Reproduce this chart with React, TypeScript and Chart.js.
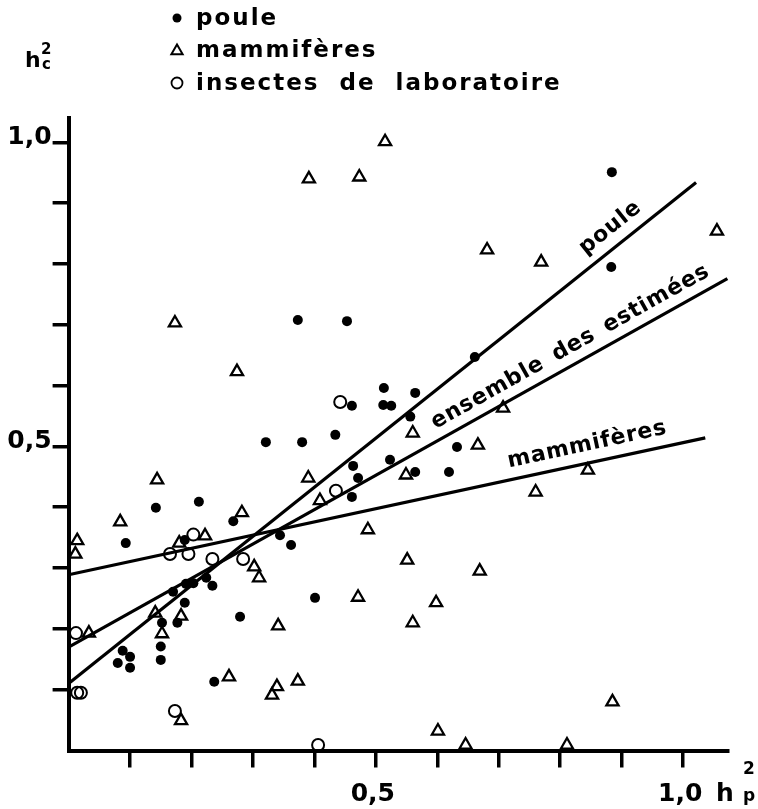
import React, { useEffect, useRef } from 'react';
import { Chart, registerables } from 'chart.js';

Chart.register(...registerables);

// ---- data (x = h²p, y = h²c) ----
const pouleData: [number, number][] = [
  [0.884, 0.951], [0.883, 0.795], [0.373, 0.708], [0.453, 0.706], [0.661, 0.647],
  [0.513, 0.596], [0.564, 0.588], [0.461, 0.567], [0.512, 0.568], [0.525, 0.567],
  [0.556, 0.549], [0.434, 0.519], [0.321, 0.507], [0.380, 0.507], [0.632, 0.499],
  [0.523, 0.478], [0.463, 0.468], [0.564, 0.458], [0.619, 0.458], [0.471, 0.448],
  [0.461, 0.417], [0.344, 0.354], [0.362, 0.338], [0.142, 0.399], [0.212, 0.409],
  [0.268, 0.377], [0.093, 0.341], [0.189, 0.346], [0.401, 0.251], [0.170, 0.261],
  [0.191, 0.274], [0.203, 0.275], [0.224, 0.284], [0.234, 0.271], [0.189, 0.243],
  [0.152, 0.210], [0.177, 0.210], [0.279, 0.220], [0.088, 0.164], [0.100, 0.154],
  [0.150, 0.171], [0.150, 0.149], [0.080, 0.144], [0.100, 0.136], [0.237, 0.113],
];

const mammData: [number, number][] = [
  [0.515, 1.001], [0.391, 0.940], [0.473, 0.943], [0.681, 0.823], [0.769, 0.803],
  [1.055, 0.854], [0.707, 0.563], [0.560, 0.522], [0.666, 0.502], [0.845, 0.461],
  [0.760, 0.425], [0.551, 0.313], [0.669, 0.295], [0.598, 0.243], [0.560, 0.210],
  [0.885, 0.080], [0.601, 0.032], [0.646, 0.009], [0.811, 0.009], [0.549, 0.453],
  [0.390, 0.448], [0.409, 0.411], [0.487, 0.363], [0.471, 0.252], [0.173, 0.703],
  [0.274, 0.623], [0.144, 0.445], [0.084, 0.376], [0.282, 0.391], [0.014, 0.345],
  [0.011, 0.323], [0.222, 0.353], [0.180, 0.341], [0.302, 0.302], [0.310, 0.284],
  [0.141, 0.226], [0.183, 0.221], [0.341, 0.205], [0.033, 0.193], [0.152, 0.192],
  [0.261, 0.121], [0.339, 0.105], [0.331, 0.091], [0.373, 0.114], [0.183, 0.049],
];

const insectData: [number, number][] = [
  [0.442, 0.573], [0.435, 0.427], [0.203, 0.355], [0.165, 0.323], [0.195, 0.323],
  [0.234, 0.315], [0.284, 0.315], [0.012, 0.193], [0.014, 0.095], [0.020, 0.095],
  [0.173, 0.065], [0.406, 0.009],
];

// regression lines: [start, end]
const pouleLine: [number, number][] = [[0, 0.110], [1.021, 0.934]];
const ensembleLine: [number, number][] = [[0, 0.170], [1.072, 0.776]];
const mammLine: [number, number][] = [[0, 0.289], [1.036, 0.514]];

const tickValues = [0.1, 0.2, 0.3, 0.4, 0.5, 0.6, 0.7, 0.8, 0.9, 1.0];
const labeledTickValues = [0.5, 1.0];
const labeledTickTexts = ['0,5', '1,0'];

const legendLabels = ['poule', 'mammifères', 'insectes de laboratoire'];
const lineLabels = ['poule', 'ensemble des estimées', 'mammifères'];
const lineLabelAt = [0.9, 0.83, 0.85];

const FONT = '"DejaVu Sans", sans-serif';

const toXY = (arr: [number, number][]) => arr.map(([x, y]) => ({ x, y }));

const textPlugin = {
  id: 'textPlugin',
  afterDraw(chart: any) {
    const ctx: CanvasRenderingContext2D = chart.ctx;
    const xs = chart.scales.x;
    const ys = chart.scales.y;
    const x0 = xs.getPixelForValue(0);
    const y0 = ys.getPixelForValue(0);
    ctx.save();
    ctx.fillStyle = '#000';
    ctx.strokeStyle = '#000';

    // x tick labels
    ctx.font = `bold 25px ${FONT}`;
    ctx.textAlign = 'center';
    ctx.textBaseline = 'alphabetic';
    labeledTickValues.forEach((v, i) => {
      ctx.fillText(labeledTickTexts[i], xs.getPixelForValue(v) - 3, y0 + 50);
    });
    // y tick labels
    ctx.font = `bold 25px ${FONT}`;
    ctx.textAlign = 'right';
    labeledTickValues.forEach((v, i) => {
      ctx.fillText(labeledTickTexts[i], x0 - 17, ys.getPixelForValue(v) + 2);
    });

    // axis titles
    ctx.textAlign = 'left';
    ctx.font = `bold 25px ${FONT}`;
    ctx.fillText('h', xs.right - 12, y0 + 50);
    ctx.font = `bold 17px ${FONT}`;
    ctx.fillText('2', xs.right + 15, y0 + 23);
    ctx.fillText('p', xs.right + 15, y0 + 50);

    ctx.font = `bold 22px ${FONT}`;
    ctx.fillText('h', 25, 67);
    ctx.font = `bold 15px ${FONT}`;
    ctx.fillText('2', 41, 54);
    ctx.fillText('c', 42, 69);

    // legend
    const lx = 177;
    const rows = [18, 50, 83];
    ctx.beginPath();
    ctx.arc(lx, rows[0], 4.5, 0, Math.PI * 2);
    ctx.fill();
    ctx.lineWidth = 2;
    ctx.beginPath();
    const r = 6.5;
    for (let k = 0; k < 3; k++) {
      const a = (k * 2 * Math.PI) / 3;
      const px = lx + Math.sin(a) * r;
      const py = rows[1] + 1 - Math.cos(a) * r;
      if (k === 0) ctx.moveTo(px, py); else ctx.lineTo(px, py);
    }
    ctx.closePath();
    ctx.stroke();
    ctx.lineWidth = 1.8;
    ctx.beginPath();
    ctx.arc(lx, rows[2], 5.5, 0, Math.PI * 2);
    ctx.stroke();

    ctx.font = `bold 23px ${FONT}`;
    (ctx as any).letterSpacing = '2px';
    (ctx as any).wordSpacing = '10px';
    ctx.textBaseline = 'alphabetic';
    legendLabels.forEach((t, i) => ctx.fillText(t, 196, rows[i] + 7));

    // line labels
    ctx.font = `bold 22px ${FONT}`;
    (ctx as any).wordSpacing = '4px';
    (ctx as any).letterSpacing = '0.8px';
    ctx.textAlign = 'center';
    ctx.textBaseline = 'middle';
    const lines = [pouleLine, ensembleLine, mammLine];
    const offsets = [18, 17, 18];
    lines.forEach((ln, i) => {
      const [p0, p1] = ln;
      const ax = xs.getPixelForValue(p0[0]);
      const ay = ys.getPixelForValue(p0[1]);
      const bx = xs.getPixelForValue(p1[0]);
      const by = ys.getPixelForValue(p1[1]);
      const ang = Math.atan2(by - ay, bx - ax);
      const t = (lineLabelAt[i] - p0[0]) / (p1[0] - p0[0]);
      const yv = p0[1] + t * (p1[1] - p0[1]);
      const px = xs.getPixelForValue(lineLabelAt[i]);
      const py = ys.getPixelForValue(yv);
      ctx.save();
      ctx.translate(px, py);
      ctx.rotate(ang);
      ctx.fillText(lineLabels[i], 0, -offsets[i]);
      ctx.restore();
    });
    ctx.restore();
  },
};

export default function App() {
  const ref = useRef<HTMLCanvasElement | null>(null);
  useEffect(() => {
    if (!ref.current) return;
    const lineDs = (d: [number, number][]) => ({
      type: 'line' as const,
      data: toXY(d),
      borderColor: '#000',
      borderWidth: 3.2,
      pointRadius: 0,
      showLine: true,
      fill: false,
      tension: 0,
      order: 5,
      clip: false as any,
    });
    const chart = new Chart(ref.current, {
      type: 'scatter',
      data: {
        datasets: [
          {
            label: 'poule',
            data: toXY(pouleData),
            pointStyle: 'circle',
            pointRadius: 5,
            backgroundColor: '#000',
            borderColor: '#000',
            borderWidth: 0,
            order: 1,
            clip: false as any,
          },
          {
            label: 'mammifères',
            data: toXY(mammData),
            pointStyle: 'triangle',
            pointRadius: 7,
            backgroundColor: 'rgba(0,0,0,0)',
            borderColor: '#000',
            borderWidth: 2.3,
            order: 2,
            clip: false as any,
          },
          {
            label: 'insectes de laboratoire',
            data: toXY(insectData),
            pointStyle: 'circle',
            pointRadius: 6,
            backgroundColor: 'rgba(0,0,0,0)',
            borderColor: '#000',
            borderWidth: 2,
            order: 3,
            clip: false as any,
          },
          lineDs(pouleLine) as any,
          lineDs(ensembleLine) as any,
          lineDs(mammLine) as any,
        ],
      },
      options: {
        animation: false,
        responsive: false,
        events: [],
        layout: { padding: { left: 0, right: 30, top: 118, bottom: 0 }, autoPadding: false } as any,
        plugins: { legend: { display: false }, tooltip: { enabled: false } },
        scales: {
          x: {
            type: 'linear',
            min: 0,
            max: 1.073,
            afterBuildTicks: (s: any) => {
              s.ticks = tickValues.map((v) => ({ value: v }));
            },
            afterFit: (s: any) => {
              s.height = 58.5;
            },
            ticks: { display: false },
            grid: { drawOnChartArea: false, drawTicks: true, tickLength: 17, lineWidth: 3.5, color: '#000' },
            border: { display: true, width: 4, color: '#000' },
          },
          y: {
            type: 'linear',
            min: 0,
            max: 1.04,
            afterBuildTicks: (s: any) => {
              s.ticks = tickValues.map((v) => ({ value: v }));
            },
            afterFit: (s: any) => {
              s.width = 68.6;
            },
            ticks: { display: false },
            grid: { drawOnChartArea: false, drawTicks: true, tickLength: 16, lineWidth: 3.5, color: '#000' },
            border: { display: true, width: 4, color: '#000' },
          },
        },
      },
      plugins: [textPlugin],
    });
    return () => chart.destroy();
  }, []);
  return (
    <div style={{ position: 'absolute', left: 0, top: 0, width: 758, height: 809, background: '#fff' }}>
      <canvas ref={ref} width={758} height={809} style={{ width: 758, height: 809, display: 'block' }} />
    </div>
  );
}
